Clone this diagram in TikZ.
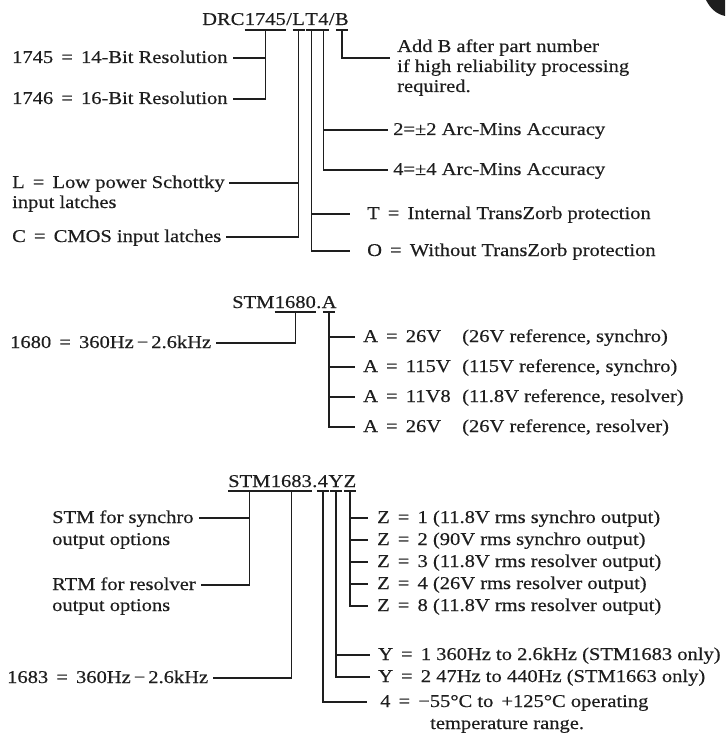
\documentclass[tikz,border=0pt]{standalone}
\usepackage{fontspec}
\setmainfont{Liberation Serif}[FakeStretch=1.14,FakeBold=0.35]
\definecolor{ink}{HTML}{1E1E1E}
\newcommand{\Eq}{\ \,=\,\ }
\tikzset{
  lab/.style={font=\fontsize{18}{20}\selectfont, text=ink, text height=11pt, text depth=1pt, inner ysep=0pt, anchor=west},
  ttl/.style={font=\fontsize{18}{20}\selectfont, text=ink, inner sep=0pt, anchor=base west},
  con/.style={draw=ink, line width=1.6pt},
}
\begin{document}
\begin{tikzpicture}[x=1pt,y=-1pt]
\fill[white] (0,0) rectangle (725,738);
\useasboundingbox (0,0) rectangle (725,738);
% scan artefact, top right corner
\fill[ink] (706,0) .. controls (710,8) and (716,14) .. (725,16) -- (725,0) -- cycle;

% ================= Section 1 =================
\node[ttl] (tD) at (202,25) {DRC};
\node[ttl] (t1745) at (tD.base east) {1745};
\node[ttl] (ts1) at (t1745.base east) {/};
\node[ttl] (tL) at (ts1.base east) {L};
\node[ttl] (tT) at (tL.base east) {T};
\node[ttl] (t4) at (tT.base east) {4};
\node[ttl] (ts2) at (t4.base east) {/};
\node[ttl] (tB) at (ts2.base east) {B};
\coordinate (u1) at (0,30);

\node[lab,inner xsep=5pt] (l1745) at (7,58) {1745\Eq 14-Bit Resolution};
\node[lab,inner xsep=5pt] (l1746) at (7,99) {1746\Eq 16-Bit Resolution};
\node[lab,inner xsep=4pt] (lL) at (8,183) {L\Eq Low power Schottky};
\node[lab,inner xsep=4pt] (lLb) at (8,203) {input latches};
\node[lab,inner xsep=5pt] (lC) at (7,237) {C\Eq CMOS input latches};
\node[lab,inner xsep=7pt] (aB1) at (390,47) {Add B after part number};
\node[lab,inner xsep=7pt] (aB2) at (390,67) {if high reliability processing};
\node[lab,inner xsep=7pt] (aB3) at (390,87) {required.};
\coordinate (bEnd) at (390,58);
\node[lab,inner xsep=5pt] (l2) at (388,130) {2=±2 Arc-Mins Accuracy};
\node[lab,inner xsep=5pt] (l4) at (388,170) {4=±4 Arc-Mins Accuracy};
\node[lab,inner xsep=17pt] (lT) at (350,214) {T\Eq Internal TransZorb protection};
\node[lab,inner xsep=17pt] (lO) at (350,251) {O\Eq Without TransZorb protection};

\coordinate (c1745) at (t1745.base |- u1);
\draw[con] (t1745.base west |- u1) -- (t1745.base east |- u1);
\draw[con] (c1745) |- (l1745.east);
\draw[con] (c1745) |- (l1746.east);
\coordinate (cL) at (tL.base |- u1);
\draw[con] ([xshift=-6pt]cL) -- ([xshift=6pt]cL);
\draw[con] (cL) |- (lL.east);
\draw[con] (cL) |- (lC.east);
\coordinate (cT) at (tT.base |- u1);
\draw[con] ([xshift=-6pt]cT) -- ([xshift=6pt]cT);
\draw[con] (cT) |- (lT.west);
\draw[con] (cT) |- (lO.west);
\coordinate (c4) at (t4.base |- u1);
\draw[con] ([xshift=-6pt]c4) -- ([xshift=6pt]c4);
\draw[con] (c4) |- (l2.west);
\draw[con] (c4) |- (l4.west);
\coordinate (cB) at (tB.base |- u1);
\draw[con] ([xshift=-6pt]cB) -- ([xshift=6pt]cB);
\draw[con] (cB) |- (bEnd);

% ================= Section 2 =================
\node[ttl] (sS) at (232,308) {STM};
\node[ttl] (s1680) at (sS.base east) {1680};
\node[ttl] (sDot) at (s1680.base east) {.};
\node[ttl] (sA) at (sDot.base east) {A};
\coordinate (u2) at (0,312);

\node[lab,inner xsep=5pt] (l1680) at (5,343) {1680\Eq 360Hz\,−\,2.6kHz};
\node[lab,inner xsep=8pt] (a1) at (355,337) {A\Eq 26V};
\node[lab,inner xsep=0pt] (a1r) at (462,337) {(26V reference, synchro)};
\node[lab,inner xsep=8pt] (a2) at (355,367) {A\Eq 115V};
\node[lab,inner xsep=0pt] (a2r) at (462,367) {(115V reference, synchro)};
\node[lab,inner xsep=8pt] (a3) at (355,397) {A\Eq 11V8};
\node[lab,inner xsep=0pt] (a3r) at (462,397) {(11.8V reference, resolver)};
\node[lab,inner xsep=8pt] (a4) at (355,427) {A\Eq 26V};
\node[lab,inner xsep=0pt] (a4r) at (462,427) {(26V reference, resolver)};

\coordinate (c1680) at (s1680.base |- u2);
\draw[con] (s1680.base west |- u2) -- (s1680.base east |- u2);
\draw[con] (c1680) |- (l1680.east);
\coordinate (cA) at (sA.base |- u2);
\draw[con] ([xshift=-6pt]cA) -- ([xshift=6pt]cA);
\draw[con] (cA) |- (a1.west);
\draw[con] (cA) |- (a2.west);
\draw[con] (cA) |- (a3.west);
\draw[con] (cA) |- (a4.west);

% ================= Section 3 =================
\node[ttl] (zS) at (228,487) {STM};
\node[ttl] (z1683) at (zS.base east) {1683};
\node[ttl] (zDot) at (z1683.base east) {.};
\node[ttl] (z4) at (zDot.base east) {4};
\node[ttl] (zY) at (z4.base east) {Y};
\node[ttl] (zZ) at (zY.base east) {Z};
\coordinate (u3) at (0,491);

\node[lab,inner xsep=5pt] (lSTM) at (47,518) {STM for synchro};
\node[lab,inner xsep=5pt] (lSTMb) at (47,540) {output options};
\node[lab,inner xsep=5pt] (lRTM) at (47,585) {RTM for resolver};
\node[lab,inner xsep=5pt] (lRTMb) at (47,606) {output options};
\node[lab,inner xsep=5pt] (l1683) at (2,678) {1683\Eq 360Hz\,−\,2.6kHz};

\node[lab,inner xsep=9pt] (zz1) at (368,518) {Z\Eq 1 (11.8V rms synchro output)};
\node[lab,inner xsep=9pt] (zz2) at (368,540) {Z\Eq 2 (90V rms synchro output)};
\node[lab,inner xsep=9pt] (zz3) at (368,562) {Z\Eq 3 (11.8V rms resolver output)};
\node[lab,inner xsep=9pt] (zz4) at (368,584) {Z\Eq 4 (26V rms resolver output)};
\node[lab,inner xsep=9pt] (zz8) at (368,606) {Z\Eq 8 (11.8V rms resolver output)};
\node[lab,inner xsep=8pt] (yy1) at (370,655) {Y\Eq 1 360Hz to 2.6kHz (STM1683 only)};
\node[lab,inner xsep=8pt] (yy2) at (370,677) {Y\Eq 2 47Hz to 440Hz (STM1663 only)};
\node[lab,inner xsep=13pt] (tmp) at (367,702) {4\Eq −55°C to \,+125°C operating};
\node[lab,inner xsep=0pt] (tmpb) at (430,724) {temperature range.};

\coordinate (cS) at (zS.base |- u3);
\draw[con] (zS.base west |- u3) -- (zS.base east |- u3);
\draw[con] (cS) |- (lSTM.east);
\draw[con] (cS) |- (lRTM.east);
\coordinate (c1683) at (z1683.base |- u3);
\draw[con] (z1683.base west |- u3) -- (z1683.base east |- u3);
\draw[con] (c1683) |- (l1683.east);
\coordinate (cz4) at (z4.base |- u3);
\draw[con] ([xshift=-6pt]cz4) -- ([xshift=6pt]cz4);
\draw[con] (cz4) |- (tmp.west);
\coordinate (cY) at (zY.base |- u3);
\draw[con] ([xshift=-6pt]cY) -- ([xshift=6pt]cY);
\draw[con] (cY) |- (yy1.west);
\draw[con] (cY) |- (yy2.west);
\coordinate (cZ) at (zZ.base |- u3);
\draw[con] ([xshift=-6pt]cZ) -- ([xshift=6pt]cZ);
\draw[con] (cZ) |- (zz1.west);
\draw[con] (cZ) |- (zz2.west);
\draw[con] (cZ) |- (zz3.west);
\draw[con] (cZ) |- (zz4.west);
\draw[con] (cZ) |- (zz8.west);
\end{tikzpicture}
\end{document}
